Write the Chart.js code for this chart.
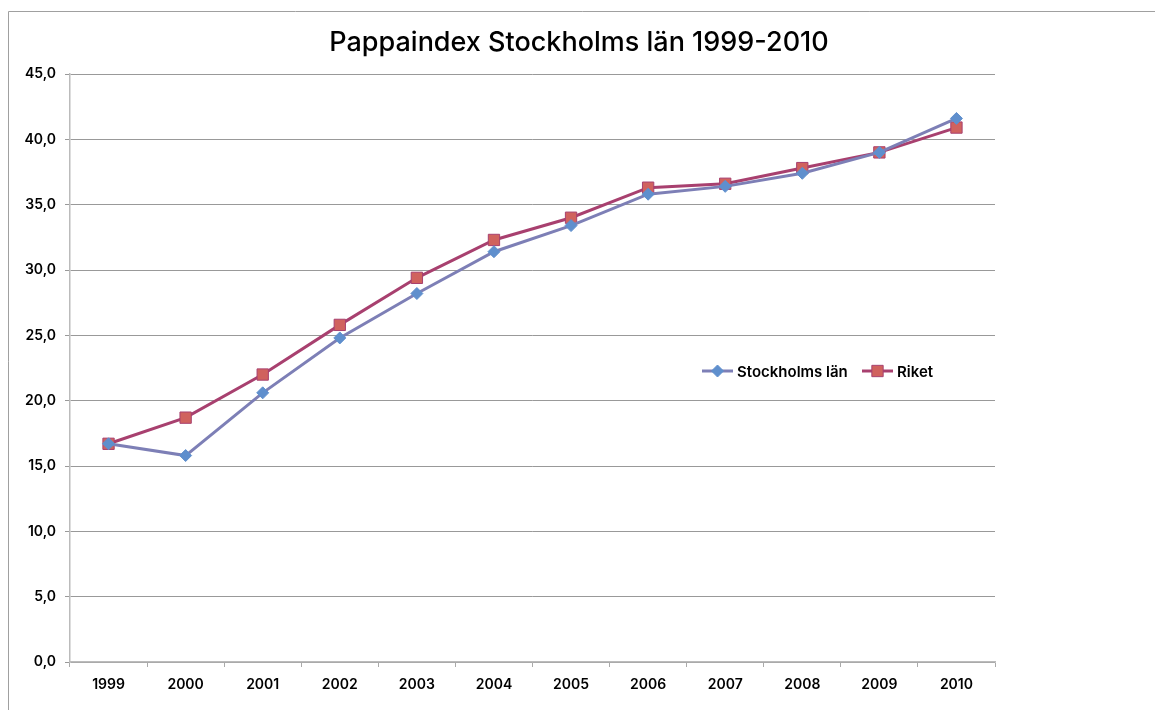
<!DOCTYPE html>
<html>
<head>
<meta charset="utf-8">
<script src="https://cdn.jsdelivr.net/npm/chart.js@4"></script>
<style>
html,body{margin:0;padding:0;background:#fff;}
#wrap{width:1155px;height:710px;position:relative;}
</style>
</head>
<body>
<div id="wrap"><canvas id="c" width="1155" height="710"></canvas></div>
<script>
const titleText = 'Pappaindex Stockholms län 1999-2010';
const categories = ['1999','2000','2001','2002','2003','2004','2005','2006','2007','2008','2009','2010'];
const stockholm = [16.7, 15.8, 20.6, 24.8, 28.2, 31.4, 33.4, 35.8, 36.4, 37.4, 39.0, 41.6];
const riket = [16.7, 18.7, 22.0, 25.8, 29.4, 32.3, 34.0, 36.3, 36.6, 37.8, 39.0, 40.9];
const seriesNames = ['Stockholms län', 'Riket'];

const FONT = 'Inter, "Liberation Sans", Arial, sans-serif';

const framePlugin = {
  id: 'frame',
  beforeDraw(chart) {
    const ctx = chart.ctx;
    ctx.save();
    ctx.strokeStyle = '#a0a0a0';
    ctx.lineWidth = 1;
    ctx.beginPath();
    ctx.moveTo(8.5, 720);
    ctx.lineTo(8.5, 11.5);
    ctx.lineTo(1170, 11.5);
    ctx.stroke();
    ctx.fillStyle = '#000';
    ctx.font = '500 27px ' + FONT;
    ctx.textAlign = 'center';
    ctx.textBaseline = 'middle';
    ctx.fillText(titleText, 579, 43);
    ctx.restore();
  }
};

const legendPlugin = {
  id: 'innerLegend',
  afterDraw(chart) {
    const ctx = chart.ctx;
    const items = [
      {x: 702, w: 31, ds: chart.data.datasets[0]},
      {x: 862, w: 31, ds: chart.data.datasets[1]}
    ];
    const y = 371;
    ctx.save();
    items.forEach(it => {
      ctx.strokeStyle = it.ds.borderColor;
      ctx.lineWidth = 3;
      ctx.beginPath();
      ctx.moveTo(it.x, y);
      ctx.lineTo(it.x + it.w, y);
      ctx.stroke();
      const cx = it.x + it.w / 2;
      ctx.fillStyle = it.ds.pointBackgroundColor;
      ctx.strokeStyle = it.ds.pointBorderColor;
      ctx.lineWidth = 1;
      Chart.helpers.drawPoint(ctx, {
        pointStyle: it.ds.pointStyle,
        radius: it.ds.pointRadius,
        borderWidth: 1
      }, cx, y);
      ctx.fillStyle = '#000';
      ctx.font = '600 15px ' + FONT;
      ctx.textAlign = 'left';
      ctx.textBaseline = 'middle';
      ctx.fillText(it.ds.label, it.x + it.w + 4, y + 1);
    });
    ctx.restore();
  }
};

new Chart(document.getElementById('c'), {
  type: 'line',
  data: {
    labels: categories,
    datasets: [
      {
        label: seriesNames[0],
        data: stockholm,
        borderColor: '#7d7fb6',
        borderWidth: 3,
        pointStyle: 'rectRot',
        pointRadius: 6,
        pointBackgroundColor: '#5f8fcd',
        pointBorderColor: '#5f8fcd',
        pointBorderWidth: 1,
        tension: 0
      },
      {
        label: seriesNames[1],
        data: riket,
        borderColor: '#a8406f',
        borderWidth: 3,
        pointStyle: 'rect',
        pointRadius: 8,
        pointBackgroundColor: '#d0625e',
        pointBorderColor: '#a8406f',
        pointBorderWidth: 1,
        tension: 0
      }
    ]
  },
  options: {
    responsive: false,
    animation: false,
    devicePixelRatio: 1,
    layout: { padding: { left: 8, right: 160, top: 74, bottom: 0 } },
    plugins: {
      legend: { display: false },
      title: { display: false },
      tooltip: { enabled: false }
    },
    scales: {
      x: {
        type: 'category',
        offset: true,
        grid: { offset: true, drawOnChartArea: false, drawTicks: true, tickLength: 5, color: '#aaa' },
        border: { color: '#bbb', width: 1.5 },
        ticks: { color: '#000', font: { family: FONT, size: 14, weight: '600' }, padding: 9, maxRotation: 0 },
        afterFit(s) { s.height = 48; }
      },
      y: {
        min: 0, max: 45,
        ticks: {
          stepSize: 5, color: '#000', padding: 9,
          font: { family: FONT, size: 14, weight: '600' },
          callback: v => v.toFixed(1).replace('.', ',')
        },
        grid: { color: '#999', tickLength: 5, lineWidth: 1 },
        border: { color: '#bbb', width: 1.5 },
        afterFit(s) { s.width = 62; }
      }
    }
  },
  plugins: [framePlugin, legendPlugin]
});
</script>
</body>
</html>
